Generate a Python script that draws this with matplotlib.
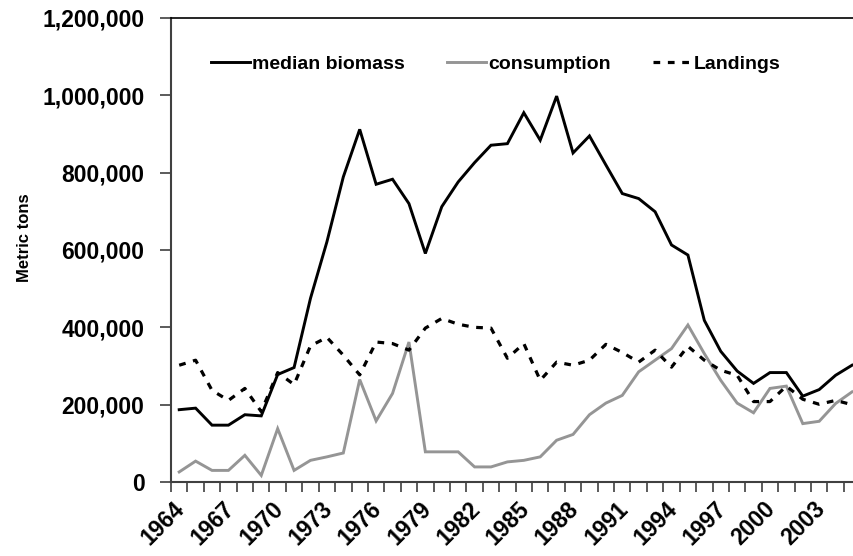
import matplotlib
matplotlib.use("Agg")
import matplotlib.pyplot as plt
from matplotlib.ticker import FuncFormatter, FixedLocator
from matplotlib.transforms import ScaledTranslation

years = list(range(1964, 2006))
biomass = [187000, 191000, 147000, 147000, 174000, 171000, 278000, 296000, 475000, 621000,
           789000, 912000, 770000, 783000, 720000, 591000, 712000, 776000, 826000, 871000,
           875000, 955000, 884000, 998000, 851000, 895000, 820000, 746000, 733000, 699000,
           613000, 587000, 418000, 338000, 287000, 255000, 283000, 283000, 222000, 239000,
           276000, 302000]
consumption = [26000, 54000, 30000, 30000, 69000, 17000, 138000, 30000, 56000, 65000,
               75000, 265000, 158000, 229000, 362000, 78000, 78000, 78000, 39000, 39000,
               52000, 56000, 65000, 108000, 123000, 174000, 204000, 224000, 285000, 315000,
               345000, 406000, 332000, 263000, 204000, 179000, 242000, 248000, 151000, 157000,
               203000, 233000]
landings = [302000, 315000, 237000, 211000, 242000, 182000, 283000, 252000, 352000, 374000,
            328000, 277000, 362000, 358000, 341000, 398000, 423000, 408000, 400000, 398000,
            320000, 358000, 263000, 310000, 302000, 315000, 356000, 335000, 310000, 341000,
            297000, 351000, 315000, 289000, 276000, 208000, 208000, 248000, 214000, 201000,
            211000, 200000]
series_labels = ["median biomass", "consumption", "Landings"]
label_years = list(range(1964, 2006, 3))

plt.rcParams['font.family'] = ['Liberation Sans', 'DejaVu Sans']
plt.rcParams['font.weight'] = 'bold'

W, H = 854, 556
fig = plt.figure(figsize=(W / 100, H / 100), dpi=100)
x0, x1 = 171, 171 + 42 * 16.41
y0, y1 = 482, 18
ax = fig.add_axes([x0 / W, 1 - y0 / H, (x1 - x0) / W, (y0 - y1) / H])

idx = list(range(len(years)))
l1, = ax.plot(idx, biomass, color='black', lw=2.1, solid_joinstyle='miter', label=series_labels[0])
l2, = ax.plot(idx, consumption, color='#959595', lw=2.1, solid_joinstyle='miter', label=series_labels[1])
l3, = ax.plot(idx, landings, color='black', lw=2.3, linestyle=(0, (2.1, 2.4)),
              dash_capstyle='butt', label=series_labels[2])

ax.set_xlim(-0.5, len(years) - 0.5)
ax.set_ylim(0, 1200000)
ax.set_yticks(range(0, 1200001, 200000))
ax.yaxis.set_major_formatter(FuncFormatter(lambda v, p: f"{int(v):,}"))
ax.tick_params(axis='y', direction='out', length=8, width=1.2, pad=11, labelsize=16.5, color='#404040')

# category ticks between categories, labels at every third year
ax.xaxis.set_major_locator(FixedLocator([years.index(y) for y in label_years]))
ax.set_xticklabels([str(y) for y in label_years], rotation=45, ha='right', va='top',
                   rotation_mode='anchor', fontsize=16.5)
ax.tick_params(axis='x', which='major', length=0, pad=11)
off = ScaledTranslation(-6 / 100, 0, fig.dpi_scale_trans)
for lab in ax.get_xticklabels():
    lab.set_transform(lab.get_transform() + off)
ax.xaxis.set_minor_locator(FixedLocator([i - 0.5 for i in range(len(years) + 1)]))
ax.tick_params(axis='x', which='minor', direction='out', length=7, width=1.2, color='#404040')

for s in ['left', 'bottom']:
    ax.spines[s].set_linewidth(1.5)
    ax.spines[s].set_color('#404040')
ax.spines['top'].set_linewidth(1.2)
ax.spines['top'].set_color('black')
ax.spines['right'].set_visible(False)

fig.text(25 / W, 1 - 238 / H, "Metric tons", rotation=90, ha='center', va='center', fontsize=12)

fig.legend(handles=[l1, l2, l3], loc='center left', bbox_to_anchor=(211 / W, 1 - 64 / H),
           ncol=3, frameon=False, fontsize=14, handlelength=2.0, handletextpad=0.13,
           columnspacing=2.15, borderpad=0, borderaxespad=0)

fig.savefig("out.png", dpi=100)
